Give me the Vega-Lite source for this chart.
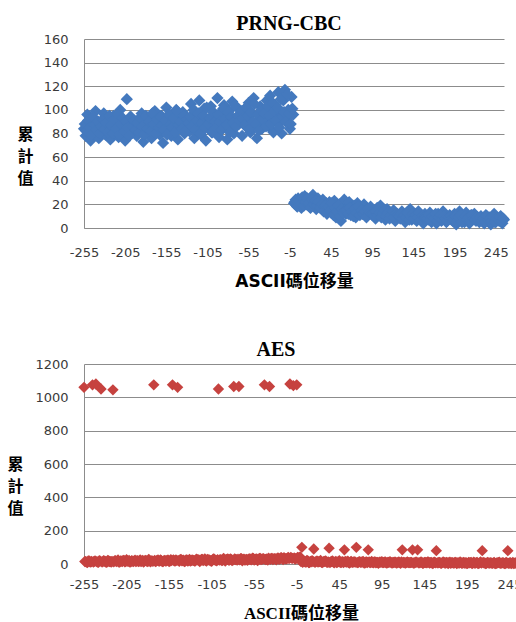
{
"$schema": "https://vega.github.io/schema/vega-lite/v6.json",
"background": "white",
"padding": {"left": 6, "top": 14, "right": 0, "bottom": 0},
"spacing": 51,
"config": {
  "view": {"stroke": null},
  "axis": {"domainColor": "#8c8c8c", "gridColor": "#8c8c8c", "ticks": false, "tickSize": 0, "labelFont": "DejaVu Sans", "labelFontSize": 13, "labelColor": "#3a3a3a", "labelOverlap": false, "labelFlush": false, "labelExpr": "'' + datum.value"},
  "axisX": {"grid": false, "labelPadding": 18},
  "axisY": {"grid": true, "labelPadding": 16}
},
"data": {"values": [
{"shift":-255,"prng":84,"aes":1060},{"shift":-253,"prng":78,"aes":14},{"shift":-251,"prng":96,"aes":9},{"shift":-249,"prng":88,"aes":18},{"shift":-247,"prng":74,"aes":12},{"shift":-245,"prng":92,"aes":1075},{"shift":-243,"prng":81,"aes":16},{"shift":-241,"prng":99,"aes":1080},{"shift":-239,"prng":86,"aes":11},{"shift":-237,"prng":76,"aes":20},{"shift":-235,"prng":90,"aes":1050},{"shift":-233,"prng":83,"aes":13},{"shift":-231,"prng":97,"aes":17},{"shift":-229,"prng":79,"aes":10},{"shift":-227,"prng":88,"aes":22},{"shift":-225,"prng":93,"aes":15},
{"shift":-223,"prng":75,"aes":12},{"shift":-221,"prng":86,"aes":1045},{"shift":-219,"prng":95,"aes":19},{"shift":-217,"prng":82,"aes":14},{"shift":-215,"prng":89,"aes":24},{"shift":-213,"prng":77,"aes":11},{"shift":-211,"prng":100,"aes":17},{"shift":-209,"prng":84,"aes":21},{"shift":-207,"prng":91,"aes":13},{"shift":-205,"prng":74,"aes":26},{"shift":-203,"prng":109,"aes":16},{"shift":-201,"prng":87,"aes":12},{"shift":-199,"prng":94,"aes":20},{"shift":-197,"prng":80,"aes":15},{"shift":-195,"prng":85,"aes":23},{"shift":-193,"prng":90,"aes":18},
{"shift":-191,"prng":78,"aes":14},{"shift":-189,"prng":92,"aes":25},{"shift":-187,"prng":85,"aes":17},{"shift":-185,"prng":97,"aes":12},{"shift":-183,"prng":73,"aes":21},{"shift":-181,"prng":88,"aes":16},{"shift":-179,"prng":94,"aes":27},{"shift":-177,"prng":81,"aes":13},{"shift":-175,"prng":90,"aes":19},{"shift":-173,"prng":76,"aes":1075},{"shift":-171,"prng":86,"aes":15},{"shift":-169,"prng":99,"aes":22},{"shift":-167,"prng":83,"aes":18},{"shift":-165,"prng":91,"aes":24},{"shift":-163,"prng":79,"aes":14},{"shift":-161,"prng":95,"aes":20},
{"shift":-159,"prng":72,"aes":17},{"shift":-157,"prng":89,"aes":23},{"shift":-155,"prng":102,"aes":15},{"shift":-153,"prng":84,"aes":26},{"shift":-151,"prng":96,"aes":1075},{"shift":-149,"prng":78,"aes":19},{"shift":-147,"prng":93,"aes":24},{"shift":-145,"prng":87,"aes":1060},{"shift":-143,"prng":100,"aes":16},{"shift":-141,"prng":75,"aes":28},{"shift":-139,"prng":91,"aes":21},{"shift":-137,"prng":85,"aes":14},{"shift":-135,"prng":98,"aes":25},{"shift":-133,"prng":80,"aes":18},{"shift":-131,"prng":94,"aes":27},{"shift":-129,"prng":88,"aes":20},
{"shift":-127,"prng":82,"aes":22},{"shift":-125,"prng":105,"aes":17},{"shift":-123,"prng":90,"aes":29},{"shift":-121,"prng":76,"aes":24},{"shift":-119,"prng":98,"aes":15},{"shift":-117,"prng":87,"aes":27},{"shift":-115,"prng":108,"aes":20},{"shift":-113,"prng":79,"aes":31},{"shift":-111,"prng":94,"aes":18},{"shift":-109,"prng":101,"aes":25},{"shift":-107,"prng":74,"aes":22},{"shift":-105,"prng":92,"aes":16},{"shift":-103,"prng":86,"aes":30},{"shift":-101,"prng":103,"aes":23},{"shift":-99,"prng":81,"aes":19},{"shift":-97,"prng":97,"aes":1050},
{"shift":-95,"prng":89,"aes":26},{"shift":-93,"prng":110,"aes":21},{"shift":-91,"prng":77,"aes":33},{"shift":-89,"prng":95,"aes":18},{"shift":-87,"prng":84,"aes":28},{"shift":-85,"prng":104,"aes":24},{"shift":-83,"prng":91,"aes":30},{"shift":-81,"prng":75,"aes":20},{"shift":-79,"prng":99,"aes":1065},{"shift":-77,"prng":86,"aes":27},{"shift":-75,"prng":107,"aes":23},{"shift":-73,"prng":80,"aes":1065},{"shift":-71,"prng":93,"aes":32},{"shift":-69,"prng":102,"aes":19},{"shift":-67,"prng":88,"aes":29},{"shift":-65,"prng":96,"aes":25},
{"shift":-63,"prng":78,"aes":22},{"shift":-61,"prng":100,"aes":31},{"shift":-59,"prng":92,"aes":27},{"shift":-57,"prng":85,"aes":35},{"shift":-55,"prng":106,"aes":24},{"shift":-53,"prng":81,"aes":29},{"shift":-51,"prng":97,"aes":20},{"shift":-49,"prng":110,"aes":33},{"shift":-47,"prng":88,"aes":26},{"shift":-45,"prng":76,"aes":30},{"shift":-43,"prng":95,"aes":1075},{"shift":-41,"prng":103,"aes":28},{"shift":-39,"prng":84,"aes":23},{"shift":-37,"prng":99,"aes":1065},{"shift":-35,"prng":90,"aes":34},{"shift":-33,"prng":108,"aes":27},
{"shift":-31,"prng":86,"aes":32},{"shift":-29,"prng":112,"aes":25},{"shift":-27,"prng":94,"aes":36},{"shift":-25,"prng":81,"aes":29},{"shift":-23,"prng":104,"aes":38},{"shift":-21,"prng":97,"aes":27},{"shift":-19,"prng":115,"aes":34},{"shift":-17,"prng":89,"aes":31},{"shift":-15,"prng":80,"aes":40},{"shift":-13,"prng":108,"aes":1080},{"shift":-11,"prng":117,"aes":35},{"shift":-9,"prng":92,"aes":1070},{"shift":-7,"prng":100,"aes":30},{"shift":-5,"prng":84,"aes":1075},{"shift":-3,"prng":111,"aes":37},{"shift":-1,"prng":96,"aes":42},
{"shift":1,"prng":22,"aes":100},{"shift":3,"prng":19,"aes":18},{"shift":5,"prng":25,"aes":12},{"shift":7,"prng":21,"aes":22},{"shift":9,"prng":17,"aes":9},{"shift":11,"prng":24,"aes":16},{"shift":13,"prng":27,"aes":20},{"shift":15,"prng":20,"aes":90},{"shift":17,"prng":23,"aes":11},{"shift":19,"prng":18,"aes":17},{"shift":21,"prng":26,"aes":14},{"shift":23,"prng":28,"aes":21},{"shift":25,"prng":22,"aes":8},{"shift":27,"prng":16,"aes":15},{"shift":29,"prng":25,"aes":19},{"shift":31,"prng":21,"aes":10},
{"shift":33,"prng":19,"aes":95},{"shift":35,"prng":24,"aes":13},{"shift":37,"prng":15,"aes":18},{"shift":39,"prng":21,"aes":7},{"shift":41,"prng":17,"aes":16},{"shift":43,"prng":22,"aes":11},{"shift":45,"prng":13,"aes":20},{"shift":47,"prng":18,"aes":9},{"shift":49,"prng":23,"aes":14},{"shift":51,"prng":9,"aes":85},{"shift":53,"prng":16,"aes":12},{"shift":55,"prng":20,"aes":17},{"shift":57,"prng":6,"aes":6},{"shift":59,"prng":14,"aes":15},{"shift":61,"prng":24,"aes":10},{"shift":63,"prng":12,"aes":13},
{"shift":65,"prng":18,"aes":100},{"shift":67,"prng":22,"aes":8},{"shift":69,"prng":11,"aes":14},{"shift":71,"prng":15,"aes":11},{"shift":73,"prng":19,"aes":16},{"shift":75,"prng":9,"aes":5},{"shift":77,"prng":21,"aes":12},{"shift":79,"prng":14,"aes":85},{"shift":81,"prng":17,"aes":9},{"shift":83,"prng":12,"aes":15},{"shift":85,"prng":20,"aes":7},{"shift":87,"prng":10,"aes":13},{"shift":89,"prng":16,"aes":10},{"shift":91,"prng":13,"aes":4},{"shift":93,"prng":18,"aes":11},{"shift":95,"prng":11,"aes":14},
{"shift":97,"prng":15,"aes":8},{"shift":99,"prng":8,"aes":12},{"shift":101,"prng":17,"aes":6},{"shift":103,"prng":12,"aes":10},{"shift":105,"prng":19,"aes":13},{"shift":107,"prng":10,"aes":5},{"shift":109,"prng":14,"aes":9},{"shift":111,"prng":7,"aes":11},{"shift":113,"prng":16,"aes":7},{"shift":115,"prng":11,"aes":12},{"shift":117,"prng":13,"aes":4},{"shift":119,"prng":9,"aes":85},{"shift":121,"prng":15,"aes":10},{"shift":123,"prng":6,"aes":6},{"shift":125,"prng":12,"aes":13},{"shift":127,"prng":10,"aes":8},
{"shift":129,"prng":8,"aes":9},{"shift":131,"prng":14,"aes":85},{"shift":133,"prng":11,"aes":5},{"shift":135,"prng":5,"aes":11},{"shift":137,"prng":13,"aes":85},{"shift":139,"prng":9,"aes":7},{"shift":141,"prng":16,"aes":12},{"shift":143,"prng":7,"aes":4},{"shift":145,"prng":10,"aes":10},{"shift":147,"prng":12,"aes":8},{"shift":149,"prng":6,"aes":13},{"shift":151,"prng":14,"aes":6},{"shift":153,"prng":9,"aes":9},{"shift":155,"prng":11,"aes":3},{"shift":157,"prng":4,"aes":11},{"shift":159,"prng":12,"aes":80},
{"shift":161,"prng":10,"aes":7},{"shift":163,"prng":7,"aes":10},{"shift":165,"prng":13,"aes":4},{"shift":167,"prng":5,"aes":12},{"shift":169,"prng":9,"aes":6},{"shift":171,"prng":11,"aes":9},{"shift":173,"prng":4,"aes":3},{"shift":175,"prng":12,"aes":11},{"shift":177,"prng":8,"aes":8},{"shift":179,"prng":6,"aes":5},{"shift":181,"prng":14,"aes":10},{"shift":183,"prng":10,"aes":2},{"shift":185,"prng":5,"aes":7},{"shift":187,"prng":9,"aes":12},{"shift":189,"prng":11,"aes":4},{"shift":191,"prng":7,"aes":9},
{"shift":193,"prng":6,"aes":6},{"shift":195,"prng":12,"aes":3},{"shift":197,"prng":3,"aes":10},{"shift":199,"prng":9,"aes":8},{"shift":201,"prng":14,"aes":2},{"shift":203,"prng":7,"aes":11},{"shift":205,"prng":10,"aes":5},{"shift":207,"prng":5,"aes":9},{"shift":209,"prng":13,"aes":4},{"shift":211,"prng":8,"aes":12},{"shift":213,"prng":4,"aes":80},{"shift":215,"prng":11,"aes":7},{"shift":217,"prng":7,"aes":3},{"shift":219,"prng":12,"aes":10},{"shift":221,"prng":6,"aes":6},{"shift":223,"prng":9,"aes":8},
{"shift":225,"prng":5,"aes":4},{"shift":227,"prng":10,"aes":9},{"shift":229,"prng":8,"aes":2},{"shift":231,"prng":4,"aes":7},{"shift":233,"prng":11,"aes":11},{"shift":235,"prng":6,"aes":5},{"shift":237,"prng":9,"aes":8},{"shift":239,"prng":3,"aes":3},{"shift":241,"prng":7,"aes":10},{"shift":243,"prng":12,"aes":80},{"shift":245,"prng":5,"aes":6},{"shift":247,"prng":8,"aes":2},{"shift":249,"prng":6,"aes":9},{"shift":251,"prng":10,"aes":5},{"shift":253,"prng":4,"aes":7},{"shift":255,"prng":7,"aes":4},
{"shift":-254,"prng":88,"aes":15},{"shift":-252,"prng":82,"aes":11},{"shift":-250,"prng":91,"aes":19},{"shift":-248,"prng":85,"aes":13},{"shift":-246,"prng":79,"aes":16},{"shift":-244,"prng":94,"aes":12},{"shift":-242,"prng":87,"aes":18},{"shift":-240,"prng":83,"aes":14},{"shift":-238,"prng":90,"aes":10},{"shift":-236,"prng":80,"aes":17},{"shift":-234,"prng":86,"aes":13},{"shift":-232,"prng":92,"aes":20},{"shift":-230,"prng":84,"aes":15},{"shift":-228,"prng":89,"aes":11},{"shift":-226,"prng":81,"aes":18},{"shift":-224,"prng":95,"aes":14},
{"shift":-222,"prng":87,"aes":16},{"shift":-220,"prng":80,"aes":13},{"shift":-218,"prng":92,"aes":20},{"shift":-216,"prng":84,"aes":17},{"shift":-214,"prng":96,"aes":12},{"shift":-212,"prng":79,"aes":19},{"shift":-210,"prng":88,"aes":15},{"shift":-208,"prng":93,"aes":22},{"shift":-206,"prng":82,"aes":14},{"shift":-204,"prng":90,"aes":18},{"shift":-202,"prng":85,"aes":21},{"shift":-200,"prng":78,"aes":13},{"shift":-198,"prng":94,"aes":17},{"shift":-196,"prng":86,"aes":19},{"shift":-194,"prng":91,"aes":15},{"shift":-192,"prng":83,"aes":20},
{"shift":-190,"prng":89,"aes":18},{"shift":-188,"prng":81,"aes":15},{"shift":-186,"prng":93,"aes":22},{"shift":-184,"prng":86,"aes":17},{"shift":-182,"prng":79,"aes":20},{"shift":-180,"prng":95,"aes":14},{"shift":-178,"prng":84,"aes":23},{"shift":-176,"prng":90,"aes":19},{"shift":-174,"prng":82,"aes":16},{"shift":-172,"prng":97,"aes":21},{"shift":-170,"prng":88,"aes":18},{"shift":-168,"prng":80,"aes":24},{"shift":-166,"prng":92,"aes":17},{"shift":-164,"prng":85,"aes":20},{"shift":-162,"prng":94,"aes":15},{"shift":-160,"prng":87,"aes":22},
{"shift":-158,"prng":83,"aes":19},{"shift":-156,"prng":91,"aes":23},{"shift":-154,"prng":79,"aes":17},{"shift":-152,"prng":96,"aes":21},{"shift":-150,"prng":88,"aes":25},{"shift":-148,"prng":85,"aes":18},{"shift":-146,"prng":93,"aes":22},{"shift":-144,"prng":81,"aes":20},{"shift":-142,"prng":99,"aes":26},{"shift":-140,"prng":87,"aes":19},{"shift":-138,"prng":90,"aes":23},{"shift":-136,"prng":84,"aes":17},{"shift":-134,"prng":95,"aes":24},{"shift":-132,"prng":82,"aes":21},{"shift":-130,"prng":92,"aes":18},{"shift":-128,"prng":89,"aes":25},
{"shift":-126,"prng":94,"aes":22},{"shift":-124,"prng":86,"aes":19},{"shift":-122,"prng":100,"aes":26},{"shift":-120,"prng":83,"aes":24},{"shift":-118,"prng":91,"aes":20},{"shift":-116,"prng":97,"aes":28},{"shift":-114,"prng":80,"aes":23},{"shift":-112,"prng":89,"aes":21},{"shift":-110,"prng":95,"aes":27},{"shift":-108,"prng":85,"aes":25},{"shift":-106,"prng":102,"aes":19},{"shift":-104,"prng":88,"aes":24},{"shift":-102,"prng":93,"aes":29},{"shift":-100,"prng":81,"aes":22},{"shift":-98,"prng":98,"aes":26},{"shift":-96,"prng":90,"aes":23},
{"shift":-94,"prng":85,"aes":25},{"shift":-92,"prng":96,"aes":22},{"shift":-90,"prng":90,"aes":28},{"shift":-88,"prng":83,"aes":26},{"shift":-86,"prng":101,"aes":31},{"shift":-84,"prng":92,"aes":24},{"shift":-82,"prng":87,"aes":27},{"shift":-80,"prng":98,"aes":23},{"shift":-78,"prng":81,"aes":30},{"shift":-76,"prng":94,"aes":26},{"shift":-74,"prng":89,"aes":29},{"shift":-72,"prng":104,"aes":25},{"shift":-70,"prng":86,"aes":32},{"shift":-68,"prng":95,"aes":27},{"shift":-66,"prng":91,"aes":24},{"shift":-64,"prng":99,"aes":28},
{"shift":-62,"prng":93,"aes":27},{"shift":-60,"prng":87,"aes":30},{"shift":-58,"prng":102,"aes":25},{"shift":-56,"prng":95,"aes":33},{"shift":-54,"prng":84,"aes":28},{"shift":-52,"prng":98,"aes":31},{"shift":-50,"prng":90,"aes":26},{"shift":-48,"prng":105,"aes":34},{"shift":-46,"prng":88,"aes":29},{"shift":-44,"prng":96,"aes":32},{"shift":-42,"prng":83,"aes":27},{"shift":-40,"prng":100,"aes":30},{"shift":-38,"prng":92,"aes":35},{"shift":-36,"prng":97,"aes":28},{"shift":-34,"prng":86,"aes":33},{"shift":-32,"prng":103,"aes":31},
{"shift":-30,"prng":95,"aes":30},{"shift":-28,"prng":88,"aes":34},{"shift":-26,"prng":106,"aes":29},{"shift":-24,"prng":99,"aes":36},{"shift":-22,"prng":91,"aes":32},{"shift":-20,"prng":102,"aes":38},{"shift":-18,"prng":85,"aes":31},{"shift":-16,"prng":109,"aes":35},{"shift":-14,"prng":94,"aes":33},{"shift":-12,"prng":98,"aes":39},{"shift":-10,"prng":90,"aes":34},{"shift":-8,"prng":113,"aes":37},{"shift":-6,"prng":97,"aes":32},{"shift":-4,"prng":88,"aes":40},{"shift":-2,"prng":101,"aes":36},
{"shift":0,"prng":21,"aes":14},{"shift":2,"prng":24,"aes":10},{"shift":4,"prng":18,"aes":16},{"shift":6,"prng":23,"aes":12},{"shift":8,"prng":20,"aes":18},{"shift":10,"prng":26,"aes":9},{"shift":12,"prng":19,"aes":13},{"shift":14,"prng":22,"aes":15},{"shift":16,"prng":25,"aes":11},{"shift":18,"prng":21,"aes":17},{"shift":20,"prng":17,"aes":12},{"shift":22,"prng":24,"aes":14},{"shift":24,"prng":20,"aes":10},{"shift":26,"prng":23,"aes":13},{"shift":28,"prng":19,"aes":16},{"shift":30,"prng":22,"aes":11},
{"shift":32,"prng":17,"aes":12},{"shift":34,"prng":20,"aes":9},{"shift":36,"prng":14,"aes":15},{"shift":38,"prng":19,"aes":11},{"shift":40,"prng":12,"aes":13},{"shift":42,"prng":18,"aes":8},{"shift":44,"prng":15,"aes":14},{"shift":46,"prng":21,"aes":10},{"shift":48,"prng":11,"aes":12},{"shift":50,"prng":17,"aes":9},{"shift":52,"prng":14,"aes":15},{"shift":54,"prng":19,"aes":11},{"shift":56,"prng":10,"aes":8},{"shift":58,"prng":16,"aes":12},{"shift":60,"prng":13,"aes":10},{"shift":62,"prng":15,"aes":13},
{"shift":64,"prng":15,"aes":11},{"shift":66,"prng":12,"aes":8},{"shift":68,"prng":17,"aes":13},{"shift":70,"prng":14,"aes":10},{"shift":72,"prng":10,"aes":12},{"shift":74,"prng":16,"aes":7},{"shift":76,"prng":13,"aes":11},{"shift":78,"prng":18,"aes":9},{"shift":80,"prng":11,"aes":13},{"shift":82,"prng":15,"aes":8},{"shift":84,"prng":12,"aes":10},{"shift":86,"prng":14,"aes":12},{"shift":88,"prng":9,"aes":7},{"shift":90,"prng":16,"aes":9},{"shift":92,"prng":13,"aes":11},{"shift":94,"prng":12,"aes":10},
{"shift":96,"prng":12,"aes":9},{"shift":98,"prng":10,"aes":11},{"shift":100,"prng":14,"aes":7},{"shift":102,"prng":11,"aes":10},{"shift":104,"prng":13,"aes":12},{"shift":106,"prng":9,"aes":8},{"shift":108,"prng":12,"aes":9},{"shift":110,"prng":15,"aes":11},{"shift":112,"prng":10,"aes":6},{"shift":114,"prng":13,"aes":10},{"shift":116,"prng":8,"aes":8},{"shift":118,"prng":11,"aes":12},{"shift":120,"prng":14,"aes":9},{"shift":122,"prng":9,"aes":7},{"shift":124,"prng":12,"aes":10},{"shift":126,"prng":11,"aes":8},
{"shift":128,"prng":10,"aes":8},{"shift":130,"prng":12,"aes":10},{"shift":132,"prng":8,"aes":6},{"shift":134,"prng":11,"aes":9},{"shift":136,"prng":9,"aes":11},{"shift":138,"prng":13,"aes":7},{"shift":140,"prng":7,"aes":8},{"shift":142,"prng":10,"aes":10},{"shift":144,"prng":12,"aes":5},{"shift":146,"prng":8,"aes":9},{"shift":148,"prng":11,"aes":7},{"shift":150,"prng":9,"aes":11},{"shift":152,"prng":13,"aes":8},{"shift":154,"prng":7,"aes":6},{"shift":156,"prng":10,"aes":9},{"shift":158,"prng":9,"aes":7},
{"shift":160,"prng":9,"aes":7},{"shift":162,"prng":8,"aes":9},{"shift":164,"prng":11,"aes":5},{"shift":166,"prng":7,"aes":8},{"shift":168,"prng":10,"aes":10},{"shift":170,"prng":8,"aes":6},{"shift":172,"prng":12,"aes":7},{"shift":174,"prng":6,"aes":9},{"shift":176,"prng":9,"aes":4},{"shift":178,"prng":11,"aes":8},{"shift":180,"prng":7,"aes":6},{"shift":182,"prng":10,"aes":10},{"shift":184,"prng":8,"aes":7},{"shift":186,"prng":6,"aes":5},{"shift":188,"prng":9,"aes":8},{"shift":190,"prng":10,"aes":6},
{"shift":192,"prng":8,"aes":6},{"shift":194,"prng":7,"aes":8},{"shift":196,"prng":10,"aes":4},{"shift":198,"prng":6,"aes":7},{"shift":200,"prng":9,"aes":9},{"shift":202,"prng":11,"aes":5},{"shift":204,"prng":5,"aes":6},{"shift":206,"prng":8,"aes":8},{"shift":208,"prng":10,"aes":3},{"shift":210,"prng":7,"aes":7},{"shift":212,"prng":9,"aes":5},{"shift":214,"prng":6,"aes":9},{"shift":216,"prng":11,"aes":6},{"shift":218,"prng":8,"aes":4},{"shift":220,"prng":7,"aes":7},{"shift":222,"prng":9,"aes":5},
{"shift":224,"prng":7,"aes":5},{"shift":226,"prng":9,"aes":7},{"shift":228,"prng":6,"aes":3},{"shift":230,"prng":8,"aes":6},{"shift":232,"prng":5,"aes":8},{"shift":234,"prng":10,"aes":4},{"shift":236,"prng":7,"aes":5},{"shift":238,"prng":8,"aes":7},{"shift":240,"prng":6,"aes":2},{"shift":242,"prng":9,"aes":6},{"shift":244,"prng":5,"aes":4},{"shift":246,"prng":8,"aes":8},{"shift":248,"prng":7,"aes":5},{"shift":250,"prng":9,"aes":3},{"shift":252,"prng":6,"aes":6},{"shift":254,"prng":8,"aes":4}
]},
"vconcat": [
  {
    "width": 420, "height": 189,
    "title": {"text": "PRNG-CBC", "font": "Liberation Serif", "fontSize": 20, "fontWeight": "bold", "color": "#000000", "dx": -5, "offset": -1},
    "mark": {"type": "point", "shape": "diamond", "filled": true, "size": 150, "color": "#4479BE", "opacity": 1},
    "encoding": {
      "x": {"field": "shift", "type": "quantitative", "scale": {"domain": [-255, 255], "nice": false, "zero": false},
        "axis": {"values": [-255,-205,-155,-105,-55,-5,45,95,145,195,245], "title": "ASCII碼位移量", "titleFont": "DejaVu Sans, Noto Sans CJK TC", "titleFontSize": 17, "titleFontWeight": "bold", "titleColor": "#000000", "titlePadding": 14}},
      "y": {"field": "prng", "type": "quantitative", "scale": {"domain": [0, 160], "nice": false},
        "axis": {"values": [0,20,40,60,80,100,120,140,160], "title": ["累","計","值"], "titleAngle": 0, "titleAlign": "center", "titleBaseline": "middle", "titleX": -59, "titleY": 95, "titleLineHeight": 22, "titleFont": "Noto Sans CJK TC", "titleFontSize": 16, "titleFontWeight": "bold", "titleColor": "#000000"}}
    }
  },
  {
    "width": 434, "height": 200,
    "title": {"text": "AES", "font": "Liberation Serif", "fontSize": 20, "fontWeight": "bold", "color": "#000000", "dx": -25, "offset": -2},
    "mark": {"type": "point", "shape": "diamond", "filled": true, "size": 130, "color": "#C6423F", "opacity": 1},
    "encoding": {
      "x": {"field": "shift", "type": "quantitative", "scale": {"domain": [-255, 255], "nice": false, "zero": false},
        "axis": {"values": [-255,-205,-155,-105,-55,-5,45,95,145,195,245], "labelPadding": 14, "title": "ASCII碼位移量", "titleFont": "Liberation Serif, Noto Sans CJK TC", "titleFontSize": 17, "titleFontWeight": "bold", "titleColor": "#000000", "titlePadding": 14}},
      "y": {"field": "aes", "type": "quantitative", "scale": {"domain": [0, 1200], "nice": false},
        "axis": {"values": [0,200,400,600,800,1000,1200], "title": ["累","計","值"], "titleAngle": 0, "titleAlign": "center", "titleBaseline": "middle", "titleX": -69, "titleY": 100, "titleLineHeight": 22, "titleFont": "Noto Sans CJK TC", "titleFontSize": 16, "titleFontWeight": "bold", "titleColor": "#000000"}}
    }
  }
]
}
